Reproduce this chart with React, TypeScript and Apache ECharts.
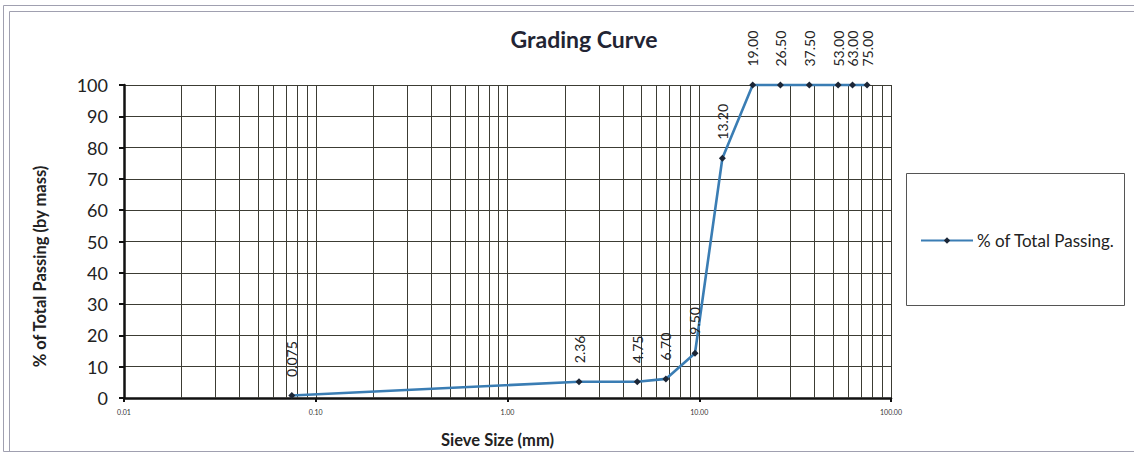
import React, { useEffect, useRef } from "react";
import * as echarts from "echarts";

const sieveSizes = [0.075, 2.36, 4.75, 6.7, 9.5, 13.2, 19.0, 26.5, 37.5, 53.0, 63.0, 75.0];
const percentPassing = [0.8, 5.2, 5.2, 6.1, 14.3, 76.6, 100, 100, 100, 100, 100, 100];
const minorGridValues = [
  0.02, 0.03, 0.04, 0.05, 0.06, 0.07, 0.08, 0.09,
  0.2, 0.3, 0.4, 0.5, 0.6, 0.7, 0.8, 0.9,
  2, 3, 4, 5, 6, 7, 8, 9,
  20, 30, 40, 50, 60, 70, 80, 90,
];
const seriesName = "% of Total Passing.";

const FONT = "Lato, 'Open Sans', sans-serif";

export default function App() {
  const ref = useRef<HTMLDivElement>(null);
  useEffect(() => {
    if (!ref.current) return;
    const chart = echarts.init(ref.current, null, { renderer: "svg" });
    chart.setOption({
      animation: false,
      backgroundColor: "#ffffff",
      title: {
        text: "Grading Curve",
        left: 579,
        top: 22,
        textAlign: "center",
        textStyle: { fontFamily: FONT, fontSize: 23, fontWeight: "bold", color: "#222433" },
      },
      graphic: [
        { type: "rect", shape: { x: 3.5, y: 5.5, width: 1140, height: 446 }, style: { fill: "none", stroke: "#a0a0b0", lineWidth: 1 }, silent: true },
        { type: "rect", shape: { x: 9.5, y: 11.5, width: 1140, height: 440 }, style: { fill: "none", stroke: "#a0a0b0", lineWidth: 1 }, silent: true },
        { type: "rect", shape: { x: 906.5, y: 173.5, width: 218, height: 132 }, style: { fill: "none", stroke: "#555", lineWidth: 1 }, silent: true },
      ],
      legend: {
        left: 920,
        top: 232,
        itemWidth: 52,
        itemHeight: 8,
        itemGap: 0,
        padding: 0,
        textStyle: { fontFamily: FONT, fontSize: 17, color: "#222", padding: [0, 0, 0, -1] },
        data: [seriesName],
      },
      grid: { left: 124, right: 243, top: 85, bottom: 56, containLabel: false },
      xAxis: {
        type: "log",
        logBase: 10,
        min: 0.01,
        max: 100,
        name: "Sieve Size (mm)",
        nameLocation: "middle",
        nameGap: 33,
        nameTextStyle: { fontFamily: FONT, fontSize: 16.5, fontWeight: "bold", color: "#222", padding: [0, 20, 0, 0] },
        axisLine: { lineStyle: { color: "#111", width: 2.5 } },
        axisTick: { show: true, length: 4, lineStyle: { color: "#111", width: 2 } },
        axisLabel: {
          fontFamily: FONT,
          fontSize: 7,
          color: "#333",
          margin: 10,
          formatter: (v: number) => v.toFixed(2),
        },
        splitLine: { show: true, lineStyle: { color: "#3c3c34", width: 1 } },
      },
      yAxis: {
        type: "value",
        min: 0,
        max: 100,
        interval: 10,
        name: "% of Total Passing (by mass)",
        nameLocation: "middle",
        nameGap: 76,
        nameTextStyle: { fontFamily: FONT, fontSize: 16.5, fontWeight: "bold", color: "#222", padding: [0, 50, 0, 0] },
        axisLine: { show: true, lineStyle: { color: "#111", width: 2.5 } },
        axisTick: { show: true, length: 5, lineStyle: { color: "#111", width: 2 } },
        axisLabel: { fontFamily: FONT, fontSize: 18, color: "#222", margin: 16 },
        splitLine: { show: true, lineStyle: { color: "#3c3c34", width: 1 } },
      },
      series: [
        {
          name: seriesName,
          type: "line",
          data: sieveSizes.map((s, i) => [s, percentPassing[i]]),
          clip: false,
          symbol: "diamond",
          symbolSize: 7,
          lineStyle: { color: "#3a7db4", width: 2.6 },
          itemStyle: { color: "#1c2636" },
          label: {
            show: true,
            position: "top",
            rotate: 90,
            align: "left",
            verticalAlign: "middle",
            distance: 15,
            fontFamily: FONT,
            fontSize: 14,
            color: "#222",
            formatter: (p: any) => {
              const v = p.value[0];
              return v < 0.1 ? String(v) : v.toFixed(2);
            },
          },
          markLine: {
            silent: true,
            symbol: ["none", "none"],
            label: { show: false },
            lineStyle: { color: "#3c3c34", width: 1, type: "solid" },
            emphasis: { disabled: true },
            data: minorGridValues.map((v) => ({ xAxis: v })),
            z: 1,
          },
          z: 5,
        },
      ],
    });
    return () => chart.dispose();
  }, []);
  return (
    <div
      ref={ref}
      style={{ position: "absolute", left: 0, top: 0, width: 1134, height: 454 }}
    />
  );
}
